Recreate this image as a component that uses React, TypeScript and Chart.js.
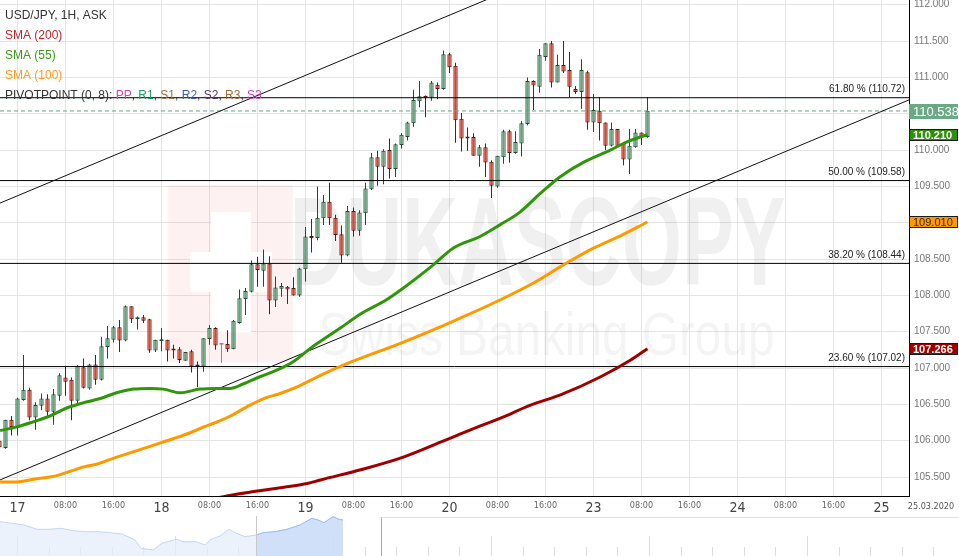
import React, { useEffect, useRef } from 'react';
import { Chart, registerables } from 'chart.js';

Chart.register(...registerables);

// ---------- DATA ----------
const FIRST_HOUR = -3; // hour slot of the first candle (0 = 17 Mar 00:00)

const candleOpen = [
  106.00, 105.90, 106.29, 106.19, 106.56, 106.70, 106.32, 106.48, 106.58, 106.40,
  106.62, 106.87, 106.84, 106.55, 107.01, 106.72, 107.05, 106.84, 107.29, 107.39,
  107.56, 107.38, 107.85, 107.67, 107.70, 107.67, 107.24, 107.37, 107.39, 107.27,
  107.26, 107.10, 107.23, 107.04, 107.02, 107.40, 107.55, 107.32, 107.33, 107.26,
  107.62, 107.95, 108.05, 108.43, 108.34, 108.44, 107.93, 108.09, 108.12, 108.10,
  108.00, 108.36, 108.81, 108.79, 109.06, 109.29, 109.07, 108.84, 108.55, 109.16,
  108.89, 109.13, 109.46, 109.90, 109.77, 110.00, 109.74, 110.07, 110.18, 110.37,
  110.67, 110.74, 110.72, 110.90, 110.84, 111.32, 111.16, 110.43, 110.18, 110.18,
  109.92, 110.04, 109.84, 109.50, 109.90, 110.26, 109.96, 110.09, 110.36, 110.95,
  110.87, 111.28, 111.47, 110.93, 111.17, 111.10, 110.84, 110.80, 111.07, 110.38,
  110.54, 110.38, 110.06, 110.29, 110.09, 109.87, 110.04, 110.24, 110.18,
];
const candleHigh = [
  106.02, 106.29, 106.34, 106.59, 107.18, 106.73, 106.53, 106.65, 106.64, 106.71,
  106.93, 107.03, 106.87, 107.04, 107.13, 107.06, 107.18, 107.43, 107.58, 107.58,
  107.66, 107.86, 107.85, 107.71, 107.73, 107.68, 107.39, 107.55, 107.39, 107.32,
  107.29, 107.22, 107.25, 107.09, 107.41, 107.59, 107.56, 107.34, 107.52, 107.66,
  108.08, 108.10, 108.48, 108.53, 108.63, 108.54, 108.26, 108.17, 108.13, 108.25,
  108.38, 108.94, 109.05, 109.50, 109.38, 109.55, 109.11, 108.96, 109.23, 109.21,
  109.17, 109.55, 109.96, 109.99, 110.01, 110.16, 110.09, 110.23, 110.39, 110.83,
  110.95, 110.75, 110.95, 110.93, 111.37, 111.34, 111.20, 110.51, 110.31, 110.23,
  110.07, 110.09, 109.86, 109.92, 110.28, 110.28, 110.26, 110.40, 111.00, 110.96,
  111.39, 111.47, 111.50, 111.31, 111.50, 111.35, 110.88, 111.25, 111.09, 110.77,
  110.73, 110.38, 110.38, 110.29, 110.10, 110.29, 110.29, 110.24, 110.73,
];
const candleLow = [
  105.89, 105.89, 106.07, 106.07, 106.55, 106.28, 106.15, 106.42, 106.33, 106.22,
  106.55, 106.62, 106.28, 106.52, 106.72, 106.70, 106.77, 106.83, 107.13, 107.35,
  107.22, 107.37, 107.62, 107.53, 107.62, 107.21, 107.22, 107.23, 107.09, 107.13,
  107.07, 107.10, 106.94, 106.74, 106.95, 107.32, 107.25, 107.07, 107.22, 107.26,
  107.61, 107.73, 108.04, 108.12, 108.12, 107.74, 107.84, 107.98, 107.88, 108.00,
  107.98, 108.19, 108.59, 108.76, 108.97, 108.97, 108.75, 108.45, 108.54, 108.81,
  108.82, 108.97, 109.45, 109.51, 109.53, 109.61, 109.63, 110.02, 110.13, 110.32,
  110.59, 110.45, 110.68, 110.70, 110.83, 111.06, 110.10, 109.98, 109.99, 109.92,
  109.77, 109.63, 109.34, 109.48, 109.81, 109.83, 109.95, 109.91, 110.34, 110.55,
  110.79, 111.23, 110.86, 110.93, 111.06, 110.73, 110.77, 110.57, 110.28, 110.25,
  110.13, 110.00, 110.05, 110.05, 109.79, 109.67, 110.03, 110.07, 110.17,
];
const candleClose = [
  105.91, 106.29, 106.19, 106.58, 106.70, 106.32, 106.49, 106.58, 106.40, 106.64,
  106.90, 106.81, 106.55, 107.03, 106.73, 107.05, 106.84, 107.30, 107.41, 107.56,
  107.38, 107.85, 107.67, 107.68, 107.65, 107.24, 107.39, 107.38, 107.24, 107.24,
  107.11, 107.22, 107.02, 107.02, 107.41, 107.55, 107.31, 107.32, 107.26, 107.65,
  107.96, 108.06, 108.43, 108.35, 108.44, 107.93, 108.11, 108.13, 108.08, 108.00,
  108.37, 108.81, 108.79, 109.07, 109.29, 109.06, 108.83, 108.55, 109.16, 108.89,
  109.14, 109.47, 109.90, 109.77, 109.99, 109.74, 110.08, 110.21, 110.38, 110.69,
  110.74, 110.72, 110.93, 110.84, 111.32, 111.14, 110.41, 110.16, 110.16, 109.92,
  110.04, 109.83, 109.51, 109.92, 110.26, 109.96, 110.11, 110.37, 110.95, 110.89,
  111.31, 111.47, 110.93, 111.17, 111.08, 110.87, 110.80, 111.10, 110.38, 110.55,
  110.37, 110.06, 110.29, 110.06, 109.87, 110.06, 110.24, 110.18, 110.54,
];

const sma55Hours = [-2.9, -0.1, 2.6, 5.4, 8.2, 10.9, 13.8, 16.5, 19.3, 22.1, 24.3, 27.1, 30.4, 33.2, 35.4, 37.6, 40.4, 43.2, 46, 48.8, 53.8, 57.1, 61.5, 63.8, 69.3, 72.6, 77.1, 80.4, 83.8, 87.1, 90.4, 94.3, 98.8, 101.5, 103.8, 105];
const sma55 = [106.14, 106.19, 106.26, 106.34, 106.45, 106.52, 106.58, 106.66, 106.71, 106.72, 106.71, 106.66, 106.71, 106.72, 106.72, 106.78, 106.88, 106.97, 107.09, 107.27, 107.55, 107.74, 107.94, 108.07, 108.42, 108.65, 108.81, 108.97, 109.15, 109.40, 109.63, 109.83, 110.00, 110.11, 110.18, 110.21];

const sma100Hours = [-2.9, -0.6, 2.7, 6.05, 8.8, 11.05, 13.3, 16.05, 19.4, 22.7, 26.05, 29.1, 31.05, 32.7, 35.5, 38.3, 41.05, 43.8, 46.6, 50.5, 55.5, 63.8, 72.2, 80.5, 86, 91, 96, 100.5, 105];
const sma100 = [105.43, 105.43, 105.47, 105.51, 105.58, 105.64, 105.68, 105.76, 105.85, 105.94, 106.03, 106.12, 106.19, 106.24, 106.34, 106.47, 106.58, 106.65, 106.74, 106.90, 107.08, 107.34, 107.63, 107.94, 108.17, 108.42, 108.65, 108.82, 109.01];

const sma200Hours = [32, 34.9, 39.4, 44.4, 48.3, 50.5, 57.2, 63.8, 70.5, 75.5, 80.5, 85.5, 90.5, 97.2, 102.2, 105];
const sma200 = [105.19, 105.24, 105.30, 105.36, 105.41, 105.46, 105.60, 105.76, 105.98, 106.15, 106.31, 106.49, 106.63, 106.88, 107.11, 107.266];

const trendHours = [-2.92, 148.58];
const trendLower = [105.46, 110.69];
const trendUpper = [109.27, 114.50];

const fibLevels = [110.72, 109.58, 108.44, 107.02];
const fibNames = ['61.80 %', '50.00 %', '38.20 %', '23.60 %'];

const currentPrice = 110.538;
const markerValues = [110.538, 110.210, 109.010, 107.266];

const xTickHours = [0, 8, 16, 24, 32, 40, 48, 56, 64, 72, 80, 88, 96, 104, 112, 120, 128, 136, 144];
const xTickLabels = ['17', '08:00', '16:00', '18', '08:00', '16:00', '19', '08:00', '16:00', '20', '08:00', '16:00', '23', '08:00', '16:00', '24', '08:00', '16:00', '25'];

// navigator (overview) series
const navX = [0, 12, 24, 37, 49, 61, 73, 86, 98, 110, 122, 135, 141, 153, 162, 171, 177, 183, 196, 205, 211, 220, 229, 235, 245, 256, 263, 275, 287, 300, 312, 318, 324, 333, 339, 343];
const navV = [34.3, 32.7, 31, 26.7, 26.7, 27.7, 25.3, 24.3, 24.3, 23.3, 22, 16, 7.7, 6, 12.7, 15.3, 16.7, 14.3, 14.3, 11, 16.7, 20, 26.7, 23.3, 19.3, 21, 23.3, 24.3, 26.7, 31, 37.7, 36, 33.3, 39.3, 36.7, 36];
const navWindow = [256, 381];

// ---------- CONFIG ----------
const Y_MIN = 105.239;
const Y_MAX = 112.065;
const X_MIN = -2.917;
const X_MAX = 148.583;
const FONT = '"Liberation Sans", Arial, sans-serif';
const NARROW = '"Liberation Sans Narrow", "DejaVu Sans Condensed", "Liberation Sans", sans-serif';

const pts = (xs: number[], ys: number[]) => xs.map((x, k) => ({ x, y: ys[k] }));

export default function App() {
  const mainRef = useRef<HTMLCanvasElement | null>(null);
  const navRef = useRef<HTMLCanvasElement | null>(null);

  useEffect(() => {
    document.body.style.margin = '0';
    const hours = candleOpen.map((_, k) => FIRST_HOUR + k);
    const dirs = hours.map((_, k) => (candleClose[k] > candleOpen[k] ? 1 : candleClose[k] < candleOpen[k] ? -1 : 0));
    const bodyFill = dirs.map((d) => (d > 0 ? '#64a37f' : d < 0 ? '#d9452f' : '#9a9a9a'));
    const bodyEdge = dirs.map((d) => (d > 0 ? '#1f4d2d' : d < 0 ? '#5a1510' : '#8a8a8a'));
    const wickCol = dirs.map((d) => (d > 0 ? '#1f4d2d' : d < 0 ? '#6b1812' : '#8a8a8a'));

    const lineBase = { type: 'line' as const, pointRadius: 0, pointHoverRadius: 0, fill: false };

    const datasets: any[] = [
      { ...lineBase, data: pts(sma55Hours, sma55), borderColor: '#2f960c', borderWidth: 3, cubicInterpolationMode: 'monotone', order: 1 },
      { ...lineBase, data: pts(sma100Hours, sma100), borderColor: '#ff9900', borderWidth: 3, cubicInterpolationMode: 'monotone', order: 1 },
      { ...lineBase, data: pts(sma200Hours, sma200), borderColor: '#9e0000', borderWidth: 3, cubicInterpolationMode: 'monotone', order: 1 },
      { ...lineBase, data: pts(trendHours, trendLower), borderColor: '#111', borderWidth: 1, order: 2 },
      { ...lineBase, data: pts(trendHours, trendUpper), borderColor: '#111', borderWidth: 1, order: 2 },
      ...fibLevels.map((lv) => ({ ...lineBase, data: pts([X_MIN, X_MAX], [lv, lv]), borderColor: '#000', borderWidth: 1, order: 2 })),
      { ...lineBase, data: pts([X_MIN, X_MAX], [currentPrice, currentPrice]), borderColor: '#62a57f', borderWidth: 1, borderDash: [4, 3], order: 2 },
      {
        type: 'bar', data: hours.map((h, k) => ({ x: h, y: [candleOpen[k], candleClose[k]] })),
        backgroundColor: bodyFill, borderColor: bodyEdge, borderWidth: 1, borderSkipped: false,
        grouped: false, maxBarThickness: 5, minBarLength: 2, order: 3,
      },
      {
        type: 'bar', data: hours.map((h, k) => ({ x: h, y: [candleLow[k], candleHigh[k]] })),
        backgroundColor: wickCol, borderWidth: 0, grouped: false, maxBarThickness: 1, order: 4,
      },
    ];

    const watermark = {
      id: 'watermark',
      beforeDatasetsDraw(chart: any) {
        const { ctx, chartArea: a } = chart;
        const W = a.right - a.left;
        const H = a.bottom - a.top;
        const px = (f: number) => a.left + f * W;
        const py = (f: number) => a.top + f * H;
        ctx.save();
        ctx.fillStyle = 'rgba(225,70,70,0.075)';
        ctx.fillRect(px(0.185), py(0.373), px(0.322) - px(0.185), py(0.73) - py(0.373));
        ctx.fillStyle = '#ffffff';
        ctx.fillRect(px(0.209), py(0.508), px(0.299) - px(0.209), py(0.589) - py(0.508));
        ctx.fillRect(px(0.232), py(0.427), px(0.276) - px(0.232), py(0.67) - py(0.427));
        ctx.fillStyle = 'rgba(0,0,0,0.06)';
        ctx.font = `bold 126px ${FONT}`;
        ctx.textBaseline = 'alphabetic';
        let tw = ctx.measureText('DUKASCOPY').width;
        ctx.save();
        ctx.translate(px(0.319), py(0.575));
        ctx.scale((px(0.864) - px(0.319)) / tw, 1);
        ctx.fillText('DUKASCOPY', 0, 0);
        ctx.restore();
        ctx.fillStyle = 'rgba(0,0,0,0.045)';
        ctx.font = `62px ${FONT}`;
        tw = ctx.measureText('Swiss Banking Group').width;
        ctx.save();
        ctx.translate(px(0.35), py(0.715));
        ctx.scale((px(0.852) - px(0.35)) / tw, 1);
        ctx.fillText('Swiss Banking Group', 0, 0);
        ctx.restore();
        ctx.restore();
      },
    };

    const overlay = {
      id: 'overlay',
      afterDatasetsDraw(chart: any) {
        const { ctx, chartArea: a, scales } = chart;
        const ys = scales.y;
        ctx.save();
        ctx.font = `10px ${FONT}`;
        ctx.fillStyle = '#222';
        ctx.textAlign = 'right';
        ctx.textBaseline = 'bottom';
        fibLevels.forEach((lv, k) => {
          ctx.fillText(`${fibNames[k]} (${lv.toFixed(2)})`, a.right - 4, ys.getPixelForValue(lv) - 3);
        });
        ctx.textAlign = 'left';
        ctx.textBaseline = 'middle';
        ctx.font = `12px ${FONT}`;
        const rows: [string, string][][] = [
          [['USD/JPY, 1H, ASK', '#333333']],
          [['SMA (200)', '#c0262b']],
          [['SMA (55)', '#3b9a19']],
          [['SMA (100)', '#ff9a20']],
          [
            ['PIVOTPOINT (0, 8): ', '#333333'], ['PP', '#d04aa8'], [', ', '#333333'], ['R1', '#1f9f6a'], [', ', '#333333'],
            ['S1', '#9a7040'], [', ', '#333333'], ['R2', '#3f5fae'], [', ', '#333333'], ['S2', '#5c3a6a'], [', ', '#333333'],
            ['R3', '#a06c3a'], [', ', '#333333'], ['S3', '#d03ed0'],
          ],
        ];
        rows.forEach((parts, r) => {
          let x = a.left + 5;
          const y = a.top + 16 + r * 20;
          parts.forEach(([t, c]) => {
            ctx.fillStyle = c;
            ctx.fillText(t, x, y);
            x += ctx.measureText(t).width;
          });
        });
        ctx.restore();
      },
      afterDraw(chart: any) {
        const { ctx, chartArea: a, scales } = chart;
        const ys = scales.y;
        ctx.save();
        const styles = [
          { bg: '#6aa886', fg: '#ffffff', edge: '', h: 15, font: `13px ${FONT}` },
          { bg: '#2f8f0c', fg: '#ffffff', edge: '#1a1a1a', h: 12, font: `bold 11px ${FONT}` },
          { bg: '#ff9900', fg: '#3a2a10', edge: '#1a1a1a', h: 12, font: `11px ${FONT}` },
          { bg: '#a00000', fg: '#ffffff', edge: '#1a1a1a', h: 12, font: `bold 11px ${FONT}` },
        ];
        markerValues.forEach((v, k) => {
          const s = styles[k];
          const cy = Math.round(ys.getPixelForValue(v));
          const top = cy - Math.floor(s.h / 2);
          ctx.fillStyle = s.bg;
          ctx.fillRect(a.right, top, 49, s.h);
          if (s.edge) {
            ctx.strokeStyle = s.edge;
            ctx.lineWidth = 1;
            ctx.strokeRect(a.right + 0.5, top + 0.5, 48, s.h - 1);
          }
          ctx.fillStyle = s.fg;
          ctx.font = s.font;
          ctx.textAlign = 'left';
          ctx.textBaseline = 'middle';
          ctx.fillText(v.toFixed(3), a.right + 4, top + s.h / 2 + 0.5);
        });
        ctx.font = `9px ${NARROW}`;
        ctx.fillStyle = '#555';
        ctx.textAlign = 'center';
        ctx.textBaseline = 'middle';
        ctx.fillText('25.03.2020', a.right + 22, a.bottom + 11);
        ctx.restore();
      },
    };

    const chart = new Chart(mainRef.current as HTMLCanvasElement, {
      type: 'bar',
      data: { datasets },
      options: {
        animation: false,
        responsive: false,
        maintainAspectRatio: false,
        layout: { padding: 0 },
        events: [],
        plugins: { legend: { display: false }, tooltip: { enabled: false } },
        scales: {
          x: {
            type: 'linear',
            min: X_MIN,
            max: X_MAX,
            offset: false,
            grid: { color: '#e5e5e5', drawTicks: false, offset: false },
            border: { color: '#000', width: 1 },
            afterBuildTicks: (s: any) => { s.ticks = xTickHours.map((v) => ({ value: v })); },
            afterFit: (s: any) => { s.height = 20; s.paddingLeft = 0; s.paddingRight = 0; },
            ticks: {
              autoSkip: false,
              maxRotation: 0,
              padding: 4,
              callback: (v: any) => xTickLabels[xTickHours.indexOf(Number(v))] ?? '',
              color: (c: any) => (xTickLabels[xTickHours.indexOf(c.tick?.value)] || '').includes(':') ? '#666' : '#444',
              font: (c: any) => (xTickLabels[xTickHours.indexOf(c.tick?.value)] || '').includes(':')
                ? { family: NARROW, size: 9 }
                : { family: NARROW, size: 14 },
            },
          },
          y: {
            type: 'linear',
            position: 'right',
            min: Y_MIN,
            max: Y_MAX,
            grid: { color: '#e5e5e5', drawTicks: false },
            border: { color: '#000', width: 1 },
            afterFit: (s: any) => { s.width = 50; s.paddingTop = 0; s.paddingBottom = 0; },
            ticks: {
              stepSize: 0.5,
              includeBounds: false,
              padding: 5,
              color: '#777',
              font: { family: FONT, size: 10 },
              callback: (v: any) => Number(v).toFixed(3),
            },
          },
        },
      } as any,
      plugins: [watermark, overlay],
    });

    const navSel = navX.map((x, k) => ({ x, y: navV[k] })).filter((p) => p.x >= navWindow[0]);
    const navDecor = {
      id: 'navDecor',
      beforeDatasetsDraw(c: any) {
        const { ctx, chartArea: a, scales } = c;
        ctx.save();
        ctx.strokeStyle = '#dcdcdc';
        ctx.lineWidth = 1;
        for (let k = 0; k < 31; k++) {
          const x = Math.round(scales.x.getPixelForValue(17 + 31.6 * k)) + 0.5;
          const top = k % 5 === 0 ? a.top + 20 : a.top + 31;
          ctx.beginPath();
          ctx.moveTo(x, top);
          ctx.lineTo(x, a.bottom);
          ctx.stroke();
        }
        ctx.restore();
      },
      afterDatasetsDraw(c: any) {
        const { ctx, chartArea: a, scales } = c;
        ctx.save();
        const x0 = Math.round(scales.x.getPixelForValue(navWindow[0])) + 0.5;
        const x1 = Math.round(scales.x.getPixelForValue(navWindow[1])) + 0.5;
        ctx.strokeStyle = '#c8c8c8';
        ctx.lineWidth = 1;
        ctx.beginPath();
        ctx.moveTo(x0, a.top);
        ctx.lineTo(x0, a.bottom);
        ctx.stroke();
        ctx.strokeStyle = '#aaaaaa';
        ctx.beginPath();
        ctx.moveTo(x1, a.top + 1);
        ctx.lineTo(x1, a.bottom);
        ctx.stroke();
        ctx.strokeStyle = '#e2e2e2';
        ctx.beginPath();
        ctx.moveTo(x1, a.top + 1.5);
        ctx.lineTo(a.right, a.top + 1.5);
        ctx.stroke();
        ctx.restore();
      },
    };

    const nav = new Chart(navRef.current as HTMLCanvasElement, {
      type: 'line',
      data: {
        datasets: [
          { data: navSel, borderColor: '#9fbdf0', borderWidth: 1, backgroundColor: 'rgba(200,218,248,0.75)', fill: 'origin', pointRadius: 0 },
          { data: pts(navX, navV), borderColor: '#c4d6f4', borderWidth: 1, backgroundColor: 'rgba(226,236,251,0.7)', fill: 'origin', pointRadius: 0 },
        ],
      },
      options: {
        animation: false,
        responsive: false,
        maintainAspectRatio: false,
        events: [],
        layout: { padding: 0 },
        plugins: { legend: { display: false }, tooltip: { enabled: false } },
        scales: {
          x: { type: 'linear', min: 0, max: 959, display: false },
          y: { min: 0, max: 40, display: false },
        },
      } as any,
      plugins: [navDecor],
    });

    return () => {
      chart.destroy();
      nav.destroy();
    };
  }, []);

  return (
    <div style={{ width: 959, height: 556, background: '#fff', overflow: 'hidden' }}>
      <canvas ref={mainRef} width={959} height={516} style={{ display: 'block', width: 959, height: 516 }} />
      <canvas ref={navRef} width={959} height={40} style={{ display: 'block', width: 959, height: 40 }} />
    </div>
  );
}
